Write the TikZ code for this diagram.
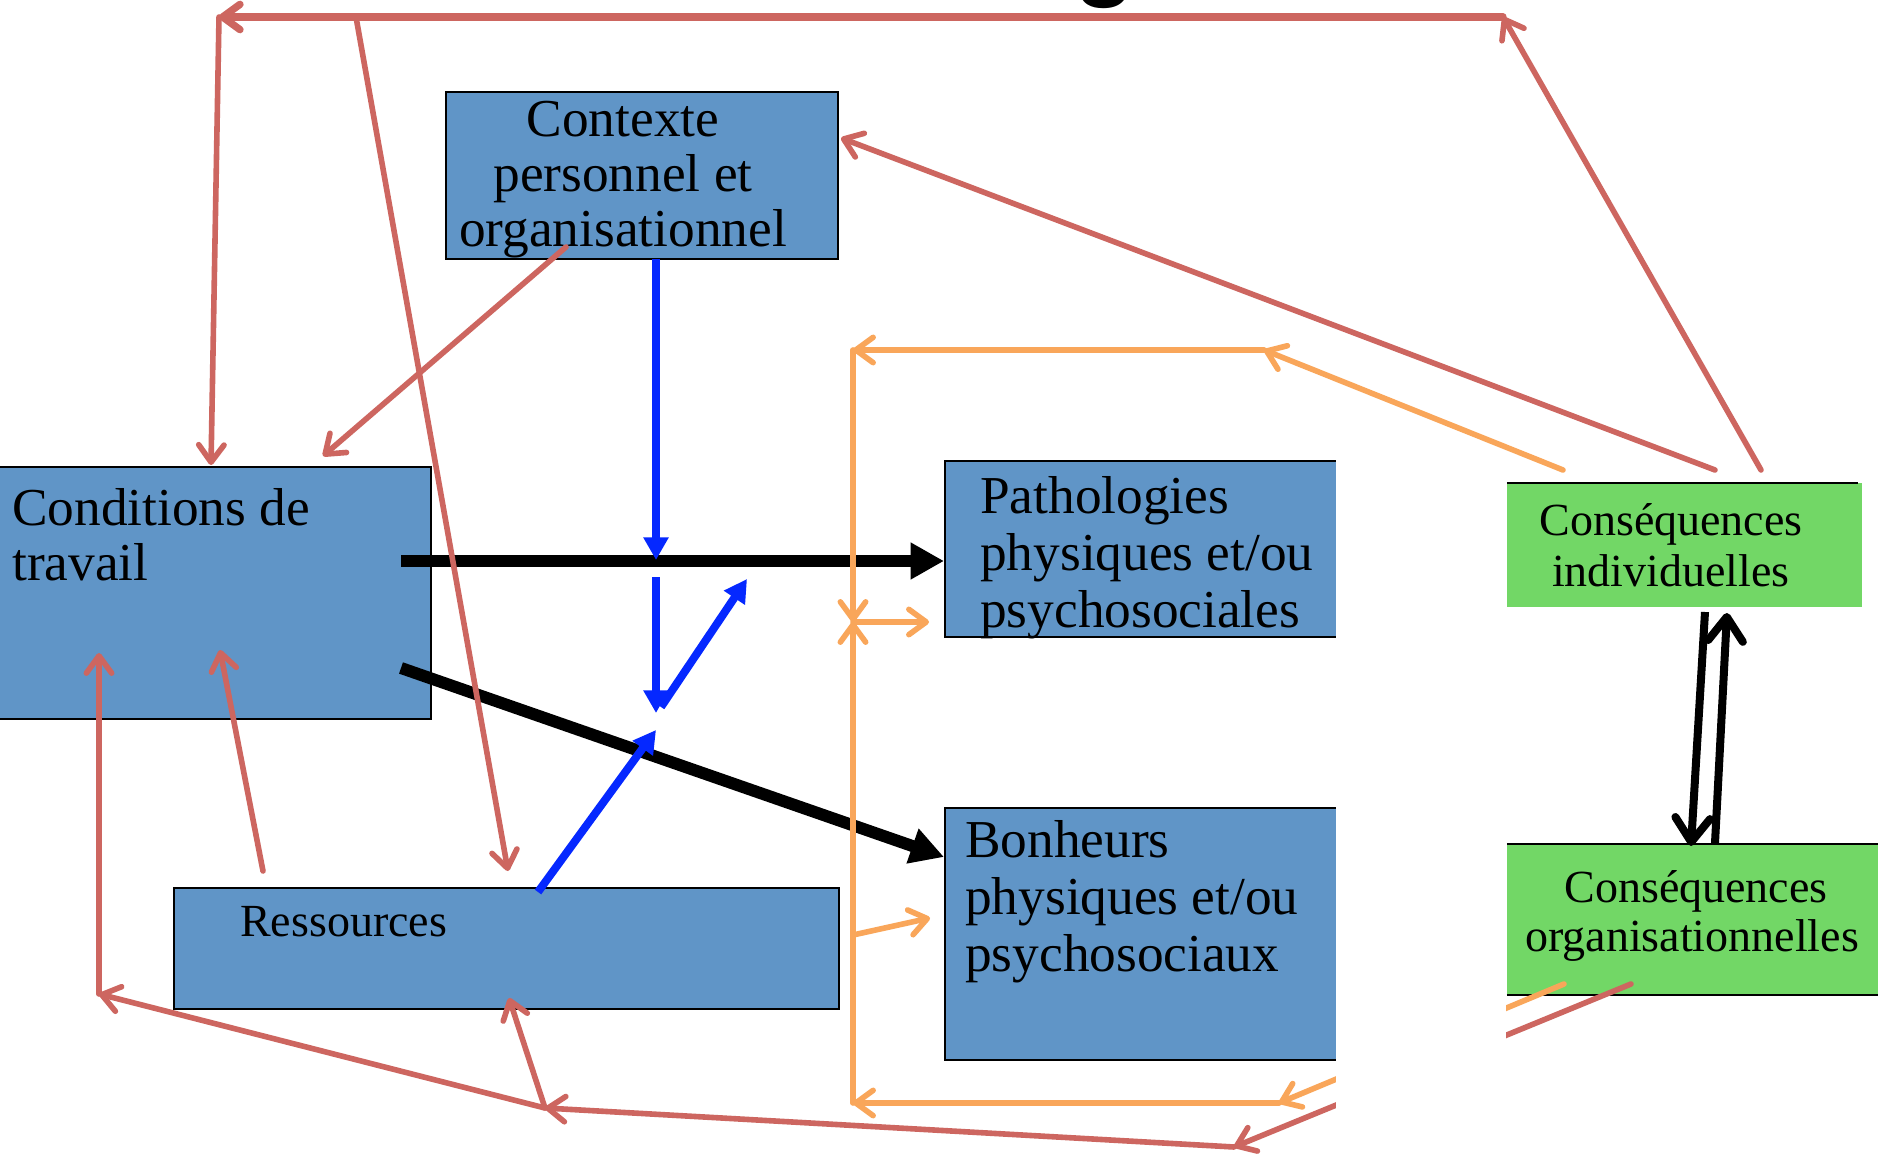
\documentclass[tikz,border=0pt]{standalone}
\usepackage{fontspec}
\setmainfont{Liberation Serif}
\newfontfamily\gsans{Liberation Sans}
\usetikzlibrary{arrows.meta,fit}
\definecolor{boxblue}{RGB}{96,149,199}
\definecolor{boxgreen}{RGB}{114,215,102}
\definecolor{lred}{RGB}{205,102,96}
\definecolor{lorange}{RGB}{249,166,90}
\definecolor{lblue}{RGB}{5,40,255}
\begin{document}
\begin{tikzpicture}[x=0.75pt,y=-0.75pt,
  bluebox/.style={draw=black,line width=1.5pt,fill=boxblue,inner sep=0pt},
  greenbox/.style={fill=boxgreen,draw=none,inner sep=0pt},
  bigtxt/.style={inner sep=0pt,font=\fontsize{40}{48}\selectfont},
  midtxt/.style={inner sep=0pt,font=\fontsize{34.5}{41}\selectfont},
  redarr/.style={draw=lred,line width=4.2pt,line cap=round,-{Straight Barb[length=13pt,width=19pt,round]}},
  orarr/.style={draw=lorange,line width=4.2pt,line cap=round,-{Straight Barb[length=13pt,width=19pt,round]}},
  bluearr/.style={draw=lblue,line width=6pt,-{Triangle[length=17pt,width=18pt]}},
  blackarr/.style={draw=black,line width=9pt,-{Triangle[length=25pt,width=26pt]}},
  dblarr/.style={draw=black,line width=6pt,-{Straight Barb[length=18pt,width=26pt,round]}}
]
\useasboundingbox (0,0) rectangle (1878,1155);
\fill[white] (0,0) rectangle (1878,1155);

% partial title glyph at the top edge
\node[inner sep=0pt,anchor=base,font=\gsans\bfseries\fontsize{75}{80}\selectfont] (ttl) at (1105,-12) {g};

% boxes
\node[bluebox,fit={(446,92) (838,259)}] (ctx) {};
\node[bluebox,fit={(-4,467) (431,719)}] (cond) {};
\node[bluebox,fit={(174,888) (839,1009)}] (ress) {};
\node[bluebox,fit={(945,461) (1340,637)}] (path) {};
\node[bluebox,fit={(945,808) (1340,1060)}] (bonh) {};
\node[greenbox,fit={(1507,483) (1862,607)}] (cind) {};
\draw[line width=1.5pt] (cind.north west) -- ([xshift=-3pt]cind.north east);
\node[greenbox,fit={(1507,844) (1882,995)}] (corg) {};
\draw[line width=1.5pt] (corg.north west) -- (corg.north east);
\draw[line width=1.5pt] (corg.south west) -- (corg.south east);

% texts
\node[bigtxt,anchor=base] (ctxA) at (623,137) {Contexte};
\node[bigtxt,anchor=base] (ctxB) at (623,192) {personnel et};
\node[bigtxt,anchor=base] (ctxC) at (623,247) {organisationnel};
\node[bigtxt,anchor=base west] (condA) at (12,525) {Conditions de};
\node[bigtxt,anchor=base west] (condB) at (12,580) {travail};
\node[bigtxt,anchor=base west] (pathA) at (980,513) {Pathologies};
\node[bigtxt,anchor=base west] (pathB) at (980,570) {physiques et/ou};
\node[bigtxt,anchor=base west] (pathC) at (980,627) {psychosociales};
\node[bigtxt,anchor=base west] (bonhA) at (965,857) {Bonheurs};
\node[bigtxt,anchor=base west] (bonhB) at (965,914) {physiques et/ou};
\node[bigtxt,anchor=base west] (bonhC) at (965,971) {psychosociaux};
\node[midtxt,anchor=base west] (ressA) at (240,936) {Ressources};
\node[midtxt,anchor=base] (cindA) at (1671,535) {Conséquences};
\node[midtxt,anchor=base] (cindB) at (1671,586) {individuelles};
\node[midtxt,anchor=base] (corgA) at (1696,902) {Conséquences};
\node[midtxt,anchor=base] (corgB) at (1692,951) {organisationnelles};

% connector points
\coordinate (tR) at (1503,17);
\coordinate (tL) at (219,17);
\coordinate (tM) at (356,17);
\coordinate (ciA) at (1761,470);
\coordinate (ciB) at (1715,470);
\coordinate (ciC) at (1563,470);
\coordinate (condTA) at (211,465);
\coordinate (condTB) at (323,456);
\coordinate (ressT) at (508,871);
\coordinate (ctxR) at (841,138);
\coordinate (ctxIn) at (566,247);
\coordinate (ressUp) at (263,871);
\coordinate (condIA) at (220,650);
\coordinate (condIB) at (99,653);
\coordinate (bl) at (99,994);
\coordinate (bm) at (545,1108);
\coordinate (ressB) at (509,998);
\coordinate (br) at (1234,1147);
\coordinate (coR) at (1631,984);
\coordinate (coO) at (1564,984);
\coordinate (oA) at (1264,350);
\coordinate (oB) at (853,350);
\coordinate (oX) at (853,622);
\coordinate (oP) at (929,622);
\coordinate (oC) at (853,1103);
\coordinate (oD) at (1279,1103);
\coordinate (oE) at (853,935);
\coordinate (oF) at (930,918);
\coordinate (b1s) at (656,259);
\coordinate (b1e) at (656,560);
\coordinate (b2s) at (656,577);
\coordinate (b2e) at (656,713);
\coordinate (b3s) at (661,707);
\coordinate (b3e) at (747,579);
\coordinate (b4s) at (538,892);
\coordinate (b4e) at (656,730);
\coordinate (k1s) at (401,561);
\coordinate (k1e) at (944,561);
\coordinate (k2s) at (401,668);
\coordinate (k2e) at (944,857);
\coordinate (k3s) at (1705,612);
\coordinate (k3e) at (1691,846);
\coordinate (k4s) at (1715,843);
\coordinate (k4e) at (1727,613);

% black arrows
\draw[blackarr] (k1s) -- (k1e);
\draw[blackarr] (k2s) -- (k2e);
\draw[dblarr] (k3s) -- (k3e);
\draw[dblarr] (k4s) -- (k4e);

% blue arrows
\draw[bluearr] (b1s) -- (b1e);
\draw[bluearr] (b2s) -- (b2e);
\draw[bluearr] (b3s) -- (b3e);
\draw[bluearr] (b4s) -- (b4e);

% orange arrows
\draw[orarr] (ciC) -- (oA);
\draw[orarr] (oA) -- (oB);
\draw[orarr] (oB) -- (oX);
\draw[orarr] (oC) -- (oX);
\draw[orarr] (oX) -- (oP);
\draw[orarr] (oE) -- (oF);
\draw[orarr] (coO) -- (oD);
\draw[orarr] (oD) -- (oC);

% red arrows
\draw[redarr] (ciA) -- (tR);
\draw[redarr,line width=5.5pt] (tR) -- (tL);
\draw[redarr] (tL) -- (condTA);
\draw[redarr] (tM) -- (ressT);
\draw[redarr] (ciB) -- (ctxR);
\draw[redarr] (ctxIn) -- (condTB);
\draw[redarr] (ressUp) -- (condIA);
\draw[redarr] (bl) -- (condIB);
\draw[redarr] (bm) -- (bl);
\draw[redarr] (bm) -- (ressB);
\draw[redarr] (br) -- (bm);
\draw[redarr] (coR) -- (br);

% white band hiding part of the picture
\fill[white] (1336,455) rectangle (1506,1160);
\end{tikzpicture}
\end{document}
